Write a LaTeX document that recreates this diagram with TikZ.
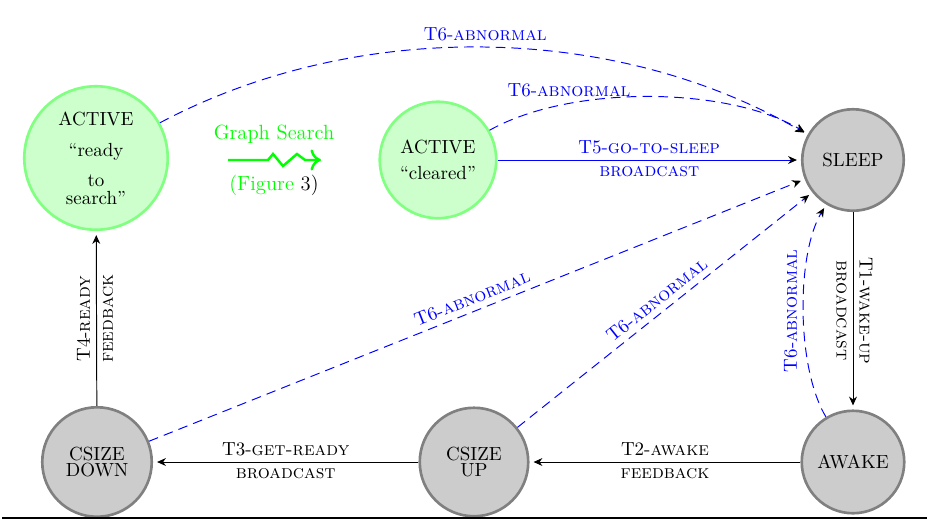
\documentclass[tikz,border=0pt]{standalone}
\usetikzlibrary{arrows.meta}
\begin{document}
\begin{tikzpicture}[x=0.02cm, y=-0.02cm,
  every node/.style={font=\fontsize{10.8}{13}\selectfont},
  state/.style={circle, line width=1.5pt, align=center, inner sep=0pt},
  greystate/.style={state, draw=black!50, fill=black!20},
  greenstate/.style={state, draw=green!50, fill=green!20},
  tip/.style={-{Stealth[length=5pt,width=4.5pt,inset=1.6pt,color=black]}},
  flow/.style={tip, line width=0.55pt, shorten >=2.3pt},
  abn/.style={flow, blue, dash pattern=on 5.5pt off 3.5pt},
  bigger/.style={font=\fontsize{11.7}{14}\selectfont}
]
\useasboundingbox (0,0) rectangle (927,522);

% states
\node[greenstate, minimum size=2.87cm] (ready) at (96,158)
  {ACTIVE\\[5pt]``ready\\[4pt]to\\[-3pt]search''};
\node[greenstate, minimum size=2.33cm] (cleared) at (438,160)
  {ACTIVE\\[1.5pt]``cleared''};
\node[greystate, minimum size=2.03cm] (sleep) at (853,160) {SLEEP};
\node[greystate, minimum size=2.05cm] (awake) at (853,462) {AWAKE};
\node[greystate, minimum size=2.17cm] (up) at (474,462) {CSIZE\\[-3.5pt]UP};
\node[greystate, minimum size=2.19cm] (down) at (97,462) {CSIZE\\[-3.5pt]DOWN};

% graph search hand-over
\node[bigger, text=green] (gs) at (274,134) {Graph Search};
\node[bigger] (fig) at (274,185) {\textcolor{green}{(Figure} 3)};
\coordinate (zs) at (228,160);
\coordinate (ze) at (321,160);
\draw[green, line width=1.4pt, -{To[length=6pt,width=12pt]}]
  (zs) -- (268,160) -- (273,154) -- (283,166) -- (297,154) -- (305,160) -- (ze);

% regular transitions
\draw[flow, blue] (cleared) -- node[midway, above] {T5-\textsc{go-to-sleep}}
  node[midway, below] {\textsc{broadcast}} (sleep);
\draw[flow] (sleep) -- node[midway, rotate=-90, above] {T1-\textsc{wake-up}}
  node[midway, rotate=-90, below] {\textsc{broadcast}} (awake);
\draw[flow] (awake) -- node[midway, above] {T2-\textsc{awake}}
  node[midway, below] {\textsc{feedback}} (up);
\draw[flow] (up) -- node[midway, above] {T3-\textsc{get-ready}}
  node[midway, below] {\textsc{broadcast}} (down);
\draw[flow] (down) -- node[midway, rotate=90, above] {T4-\textsc{ready}}
  node[midway, rotate=90, below] {\textsc{feedback}} (ready);

% abnormal transitions
\draw[abn] (ready) to[bend left=29, looseness=0.88]
  node[midway, above] {T6-\textsc{abnormal}} (sleep);
\draw[abn] (cleared) to[bend left=30, looseness=0.75]
  node[pos=0.27, above] {T6-\textsc{abnormal}} (sleep);
\draw[abn] (down) -- node[midway, sloped, above] {T6-\textsc{abnormal}} (sleep);
\draw[abn] (up) -- node[midway, sloped, above] {T6-\textsc{abnormal}} (sleep);
\draw[abn] (awake) to[bend left=31, looseness=0.7]
  node[midway, rotate=90, above] {T6-\textsc{abnormal}} (sleep);

% rule under the diagram
\coordinate (rl) at (2,518);
\coordinate (rr) at (927,518);
\draw[line width=1.2pt] (rl) -- (rr);
\end{tikzpicture}
\end{document}
